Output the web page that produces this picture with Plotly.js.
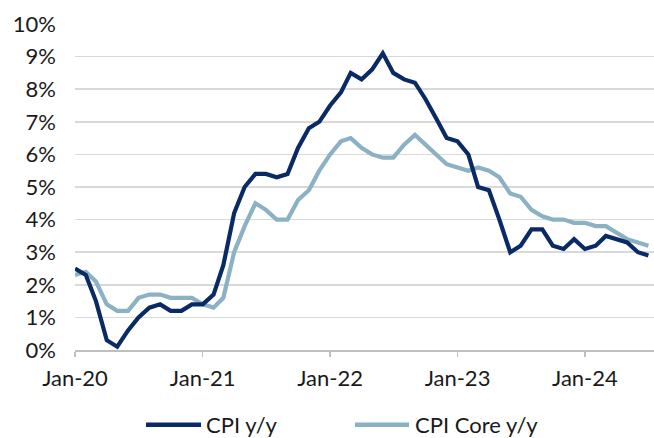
<!DOCTYPE html>
<html>
<head>
<meta charset="utf-8">
<script src="https://cdn.plot.ly/plotly-3.0.1.min.js"></script>
<style>html,body{margin:0;padding:0;background:#fff}#chart{width:654px;height:438px}</style>
</head>
<body>
<div id="chart"></div>
<script>
// Monthly observations Jan-2020 .. Jul-2024
const startYear = 2020;
const months = [];
for (let i = 0; i < 55; i++) {
  const y = startYear + Math.floor(i / 12), m = (i % 12) + 1;
  months.push(y + "-" + String(m).padStart(2, "0") + "-01");
}
const cpiYoY = [
  2.5, 2.3, 1.5, 0.3, 0.1, 0.6, 1.0, 1.3, 1.4, 1.2, 1.2, 1.4,
  1.4, 1.7, 2.6, 4.2, 5.0, 5.4, 5.4, 5.3, 5.4, 6.2, 6.8, 7.0,
  7.5, 7.9, 8.5, 8.3, 8.6, 9.1, 8.5, 8.3, 8.2, 7.7, 7.1, 6.5,
  6.4, 6.0, 5.0, 4.9, 4.0, 3.0, 3.2, 3.7, 3.7, 3.2, 3.1, 3.4,
  3.1, 3.2, 3.5, 3.4, 3.3, 3.0, 2.9
];
const cpiCoreYoY = [
  2.3, 2.4, 2.1, 1.4, 1.2, 1.2, 1.6, 1.7, 1.7, 1.6, 1.6, 1.6,
  1.4, 1.3, 1.6, 3.0, 3.8, 4.5, 4.3, 4.0, 4.0, 4.6, 4.9, 5.5,
  6.0, 6.4, 6.5, 6.2, 6.0, 5.9, 5.9, 6.3, 6.6, 6.3, 6.0, 5.7,
  5.6, 5.5, 5.6, 5.5, 5.3, 4.8, 4.7, 4.3, 4.1, 4.0, 4.0, 3.9,
  3.9, 3.8, 3.8, 3.6, 3.4, 3.3, 3.2
];
const seriesNames = ["CPI y/y", "CPI Core y/y"];
const seriesColors = ["#0a2a66", "#8bb1c3"];
const xTickVals = ["2020-01-01", "2021-01-01", "2022-01-01", "2023-01-01", "2024-01-01"];
const xTickText = ["Jan-20", "Jan-21", "Jan-22", "Jan-23", "Jan-24"];
const yTickVals = [0,1,2,3,4,5,6,7,8,9,10];
const yTickText = yTickVals.map(v => v + "%");

const FONT = "Lato, 'Open Sans', sans-serif";
const traces = [
  {x: months, y: cpiCoreYoY, name: seriesNames[1], type: "scatter", mode: "lines",
   line: {color: seriesColors[1], width: 4.2}, showlegend: false},
  {x: months, y: cpiYoY, name: seriesNames[0], type: "scatter", mode: "lines",
   line: {color: seriesColors[0], width: 4.2}, showlegend: false}
];

// custom legend (paper coordinates)
const legY = -0.229;
const legSamples = [[0.1226, 0.2176], [0.4836, 0.5769]];
const legTextX = [0.2245, 0.5855];
const shapes = legSamples.map((s, i) => ({
  type: "line", xref: "paper", yref: "paper", x0: s[0], x1: s[1], y0: legY, y1: legY,
  line: {color: seriesColors[i], width: 4.5}
}));
const annotations = seriesNames.map((n, i) => ({
  xref: "paper", yref: "paper", x: legTextX[i], y: legY + 0.002, xanchor: "left", yanchor: "middle",
  borderpad: 0, text: n, showarrow: false, font: {family: FONT, size: 22, color: "#1a1a1a"}
}));

const layout = {
  width: 654, height: 438,
  margin: {l: 75, r: 0, t: 24, b: 87.5, autoexpand: false},
  paper_bgcolor: "#fff", plot_bgcolor: "#fff",
  font: {family: FONT, size: 22, color: "#1a1a1a"},
  showlegend: false,
  shapes: shapes,
  annotations: annotations,
  xaxis: {type: "date", range: ["2020-01-01", "2024-07-17"],
          tickvals: xTickVals, ticktext: xTickText,
          showgrid: false, zeroline: false,
          showline: true, linecolor: "#bfbfbf", linewidth: 1.5,
          ticks: "outside", ticklen: 5, tickcolor: "#bfbfbf", tickwidth: 1.5,
          ticklabelstandoff: 3,
          tickfont: {family: FONT, size: 22, color: "#1a1a1a"}},
  yaxis: {range: [0, 10], tickvals: yTickVals, ticktext: yTickText,
          showgrid: true, gridcolor: "#d9d9d9", gridwidth: 1.5,
          zeroline: false, showline: false, ticks: "",
          ticklabelstandoff: 18,
          tickfont: {family: FONT, size: 22, color: "#1a1a1a"}}
};
Plotly.newPlot("chart", traces, layout, {displayModeBar: false, staticPlot: true});
</script>
</body>
</html>
